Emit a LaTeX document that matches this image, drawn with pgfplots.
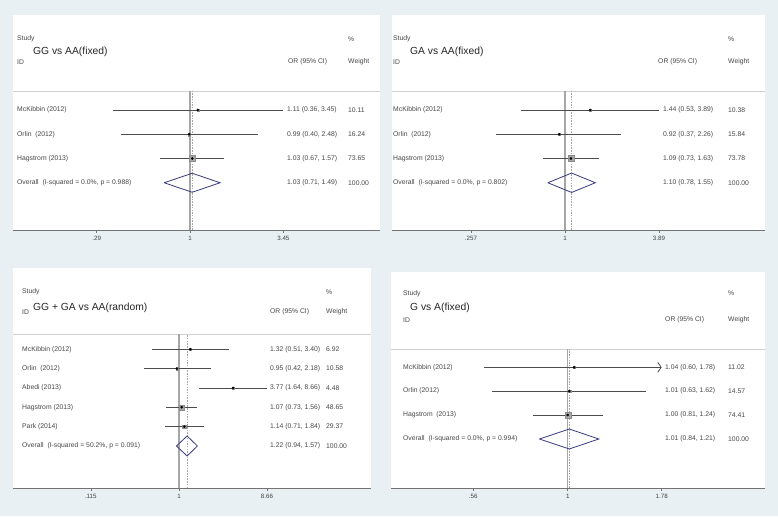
\documentclass[border=0pt]{standalone}
\usepackage{fontspec}
\setmainfont{Liberation Sans}
\usepackage{pgfplots}
\pgfplotsset{compat=1.18}
\usetikzlibrary{arrows.meta}
\definecolor{bgc}{RGB}{232,240,243}
\definecolor{dia}{RGB}{58,58,128}

\pgfplotsset{
 every axis/.append style={scale only axis, axis x line*=bottom, axis y line=none,
   x axis line style={-, draw=black!55, line width=0.8pt},
   major tick length=3pt, tick align=outside,
   xtick style={draw=black!55, line width=0.6pt},
   xticklabel style={font=\fontsize{6.2}{7}\selectfont, text=black!75, inner sep=0pt, yshift=-3pt},
 },
 ciline/.style={black!70, line width=0.8pt, mark=none},
 wbox/.style={only marks, mark=square*, mark options={fill=black!35, draw=black!45, line width=0.3pt}},
 estpt/.style={only marks, mark=*, mark size=1.1pt, black},
 diamline/.style={dia, line width=0.8pt, mark=none},
 nulline/.style={black!35, line width=1.1pt, mark=none},
 ovlline/.style={black!35, line width=0.5pt, dash pattern=on 1.5pt off 1.2pt, mark=none},
 hdrline/.style={black!18, line width=0.8pt, mark=none},
}
% row, OR, lower, upper, weight
\newcommand{\study}[5]{%
  \addplot[ciline] coordinates {(#3,#1) (#4,#1)};
  \addplot[wbox, mark size={0.35*sqrt(#5)}] coordinates {(#2,#1)};
  \addplot[estpt] coordinates {(#2,#1)};
}
\tikzset{sm/.style={anchor=west, inner sep=0pt, font=\fontsize{6.8}{8}\selectfont, text=black!72},
         ttl/.style={anchor=west, inner sep=0pt, font=\fontsize{10.3}{12}\selectfont, text=black!85}}

\begin{document}
\begin{tikzpicture}[x=1pt,y=1pt]
\fill[bgc] (0,0) rectangle (778,516);
\fill[white] (13,286) rectangle (380,501);
\fill[white] (392,286) rectangle (765,501);
\fill[white] (13,28) rectangle (371,248);
\fill[white] (391,28) rectangle (765,244);

% ---------- Panel 1: GG vs AA (fixed)
\begin{axis}[xmode=log, at={(13pt,286pt)}, anchor=south west, width=367pt, height=215pt,
  xmin=0.09562, xmax=12.427, ymin=-0.948, ymax=7.918,
  xtick={0.29,1,3.45}, xticklabels={.29,1,3.45}, minor xtick={}]
  \addplot[hdrline] coordinates {(0.09562,4.784) (12.427,4.784)};
  \addplot[nulline] coordinates {(1,-0.948) (1,4.784)};
  \addplot[ovlline] coordinates {(1.03,-0.948) (1.03,4.784)};
  \study{4}{1.11}{0.36}{3.45}{10.11}
  \study{3}{0.99}{0.40}{2.48}{16.24}
  \study{2}{1.03}{0.67}{1.57}{73.65}
  \addplot[diamline] coordinates {(0.71,1) (1.03,1.392) (1.49,1) (1.03,0.608) (0.71,1)};
\end{axis}

% ---------- Panel 2: GA vs AA (fixed)
\begin{axis}[xmode=log, at={(392pt,286pt)}, anchor=south west, width=373pt, height=215pt,
  xmin=0.08208, xmax=17.99, ymin=-0.948, ymax=7.918,
  xtick={0.257,1,3.89}, xticklabels={.257,1,3.89}, minor xtick={}]
  \addplot[hdrline] coordinates {(0.08208,4.784) (17.99,4.784)};
  \addplot[nulline] coordinates {(1,-0.948) (1,4.784)};
  \addplot[ovlline] coordinates {(1.10,-0.948) (1.10,4.784)};
  \study{4}{1.44}{0.53}{3.89}{10.38}
  \study{3}{0.92}{0.37}{2.26}{15.84}
  \study{2}{1.09}{0.73}{1.63}{73.78}
  \addplot[diamline] coordinates {(0.78,1) (1.10,1.40) (1.55,1) (1.10,0.60) (0.78,1)};
\end{axis}

% ---------- Panel 3: GG + GA vs AA (random)
\begin{axis}[xmode=log, at={(13pt,28pt)}, anchor=south west, width=358pt, height=220pt,
  xmin=0.01705, xmax=110.97, ymin=-1.172, ymax=10.204,
  xtick={0.115,1,8.66}, xticklabels={.115,1,8.66}, minor xtick={}]
  \addplot[hdrline] coordinates {(0.01705,6.776) (110.97,6.776)};
  \addplot[nulline] coordinates {(1,-1.172) (1,6.776)};
  \addplot[ovlline] coordinates {(1.22,-1.172) (1.22,6.776)};
  \study{6}{1.32}{0.51}{3.40}{6.92}
  \study{5}{0.95}{0.42}{2.18}{10.58}
  \study{4}{3.77}{1.64}{8.66}{4.48}
  \study{3}{1.07}{0.73}{1.56}{48.65}
  \study{2}{1.14}{0.71}{1.84}{29.37}
  \addplot[diamline] coordinates {(0.94,1) (1.22,1.517) (1.57,1) (1.22,0.483) (0.94,1)};
\end{axis}

% ---------- Panel 4: G vs A (fixed)
\begin{axis}[xmode=log, at={(391pt,28pt)}, anchor=south west, width=374pt, height=216pt,
  xmin=0.3382, xmax=3.3548, ymin=-1.050, ymax=7.987,
  xtick={0.56,1,1.78}, xticklabels={.56,1,1.78}, minor xtick={}]
  \addplot[hdrline] coordinates {(0.3382,4.766) (3.3548,4.766)};
  \addplot[nulline] coordinates {(1,-1.050) (1,4.766)};
  \addplot[ovlline] coordinates {(1.01,-1.050) (1.01,4.766)};
  \addplot[ciline, -{Straight Barb[length=3.5pt,width=10pt,line width=0.8pt]}] coordinates {(0.60,4) (1.78,4)};
  \addplot[wbox, mark size={0.35*sqrt(11.02)}] coordinates {(1.04,4)};
  \addplot[estpt] coordinates {(1.04,4)};
  \study{3}{1.01}{0.63}{1.62}{14.57}
  \study{2}{1.00}{0.81}{1.24}{74.41}
  \addplot[diamline] coordinates {(0.84,1) (1.01,1.417) (1.21,1) (1.01,0.583) (0.84,1)};
\end{axis}

% ---------- Text, panel 1
\node[sm] at (17,477) {Study};
\node[ttl] at (33,464) {GG vs AA(fixed)};
\node[sm] at (17,454) {ID};
\node[sm] at (288,454) {OR (95\% CI)};
\node[sm] at (348,477) {\%};
\node[sm] at (348,454) {Weight};
\node[sm] at (17,406) {McKibbin (2012)};
\node[sm] at (17,381.75) {Orlin\ \ (2012)};
\node[sm] at (17,357.5) {Hagstrom (2013)};
\node[sm] at (17,333.25) {Overall\ \ (I-squared = 0.0\%, p = 0.988)};
\node[sm] at (287,406) {1.11 (0.36, 3.45)};
\node[sm] at (287,381.75) {0.99 (0.40, 2.48)};
\node[sm] at (287,357.5) {1.03 (0.67, 1.57)};
\node[sm] at (287,333.25) {1.03 (0.71, 1.49)};
\node[sm] at (348,406) {10.11};
\node[sm] at (348,381.75) {16.24};
\node[sm] at (348,357.5) {73.65};
\node[sm] at (348,333.25) {100.00};

% ---------- Text, panel 2
\node[sm] at (393,477) {Study};
\node[ttl] at (410,464) {GA vs AA(fixed)};
\node[sm] at (393,454) {ID};
\node[sm] at (658,454) {OR (95\% CI)};
\node[sm] at (728,477) {\%};
\node[sm] at (728,454) {Weight};
\node[sm] at (393,406) {McKibbin (2012)};
\node[sm] at (393,381.75) {Orlin\ \ (2012)};
\node[sm] at (393,357.5) {Hagstrom (2013)};
\node[sm] at (393,333.25) {Overall\ \ (I-squared = 0.0\%, p = 0.802)};
\node[sm] at (663,406) {1.44 (0.53, 3.89)};
\node[sm] at (663,381.75) {0.92 (0.37, 2.26)};
\node[sm] at (663,357.5) {1.09 (0.73, 1.63)};
\node[sm] at (663,333.25) {1.10 (0.78, 1.55)};
\node[sm] at (728,406) {10.38};
\node[sm] at (728,381.75) {15.84};
\node[sm] at (728,357.5) {73.78};
\node[sm] at (728,333.25) {100.00};

% ---------- Text, panel 3
\node[sm] at (22,224.3) {Study};
\node[ttl] at (33,207.7) {GG + GA vs AA(random)};
\node[sm] at (22,204.3) {ID};
\node[sm] at (270,204.3) {OR (95\% CI)};
\node[sm] at (326,224.3) {\%};
\node[sm] at (326,204.3) {Weight};
\node[sm] at (22,166.7) {McKibbin (2012)};
\node[sm] at (22,147.36) {Orlin\ \ (2012)};
\node[sm] at (22,128.02) {Abedi (2013)};
\node[sm] at (22,108.68) {Hagstrom (2013)};
\node[sm] at (22,89.34) {Park (2014)};
\node[sm] at (22,70) {Overall\ \ (I-squared = 50.2\%, p = 0.091)};
\node[sm] at (270,166.7) {1.32 (0.51, 3.40)};
\node[sm] at (270,147.36) {0.95 (0.42, 2.18)};
\node[sm] at (270,128.02) {3.77 (1.64, 8.66)};
\node[sm] at (270,108.68) {1.07 (0.73, 1.56)};
\node[sm] at (270,89.34) {1.14 (0.71, 1.84)};
\node[sm] at (270,70) {1.22 (0.94, 1.57)};
\node[sm] at (326,166.7) {6.92};
\node[sm] at (326,147.36) {10.58};
\node[sm] at (326,128.02) {4.48};
\node[sm] at (326,108.68) {48.65};
\node[sm] at (326,89.34) {29.37};
\node[sm] at (326,70) {100.00};

% ---------- Text, panel 4
\node[sm] at (403,222.7) {Study};
\node[ttl] at (410,207.7) {G vs A(fixed)};
\node[sm] at (403,196) {ID};
\node[sm] at (665,196) {OR (95\% CI)};
\node[sm] at (728,222.7) {\%};
\node[sm] at (728,196) {Weight};
\node[sm] at (403,148.7) {McKibbin (2012)};
\node[sm] at (403,124.8) {Orlin (2012)};
\node[sm] at (403,100.9) {Hagstrom\ \ (2013)};
\node[sm] at (403,77) {Overall\ \ (I-squared = 0.0\%, p = 0.994)};
\node[sm] at (665,148.7) {1.04 (0.60, 1.78)};
\node[sm] at (665,124.8) {1.01 (0.63, 1.62)};
\node[sm] at (665,100.9) {1.00 (0.81, 1.24)};
\node[sm] at (665,77) {1.01 (0.84, 1.21)};
\node[sm] at (728,148.7) {11.02};
\node[sm] at (728,124.8) {14.57};
\node[sm] at (728,100.9) {74.41};
\node[sm] at (728,77) {100.00};

\pgfresetboundingbox
\path[use as bounding box] (0,0) rectangle (778,516);
\end{tikzpicture}
\end{document}
